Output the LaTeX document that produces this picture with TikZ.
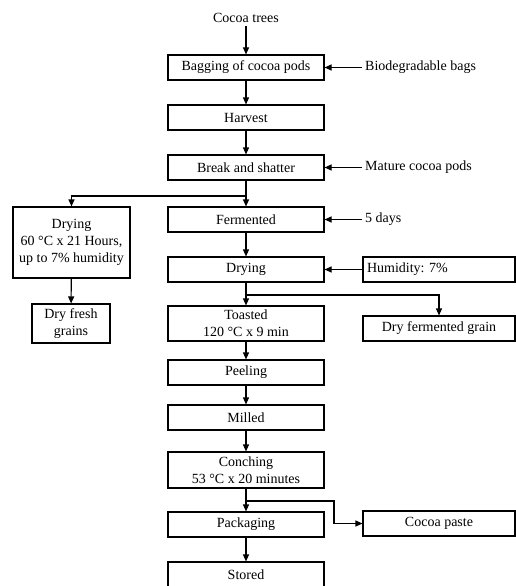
\documentclass[tikz,border=0pt]{standalone}
\usepackage{fontspec}
\setmainfont{Liberation Serif}
\usetikzlibrary{arrows.meta}
\frenchspacing
\begin{document}
\begin{tikzpicture}[x=1pt,y=-1pt,
        font=\fontsize{14}{17}\selectfont,
        box/.style={draw,line width=1.1pt,minimum width=156pt,minimum height=25pt,inner sep=1pt,align=center},
        sidebox/.style={box,minimum width=152pt},
        lbl/.style={anchor=west,inner sep=3pt},
        arr/.style={-{Triangle[length=7pt,width=6pt]},line width=1.1pt}]
    \useasboundingbox (0,0) rectangle (516,586);
    \node (trees) at (246,18) {Cocoa trees};
    \node[box] (bag) at (246,67.5) {Bagging of cocoa pods};
    \node[lbl] (bags) at (362,67.5) {Biodegradable bags};
    \node[box] (harvest) at (246,117.5) {Harvest};
    \node[box] (brk) at (246,167.5) {Break and shatter};
    \node[lbl] (pods) at (362,167.5) {Mature cocoa pods};
    \node[box] (ferm) at (246,219.5) {Fermented};
    \node[lbl] (days) at (362,219.5) {5 days};
    \node[box,minimum width=117pt,minimum height=71pt] (dryleft) at (71.5,242.5) {Drying\\60 °C x 21 Hours,\\up to 7\% humidity};
    \node[box,minimum width=78pt,minimum height=39pt] (fresh) at (71,323.5) {Dry fresh\\grains};
    \node[box] (dry) at (246,269.5) {Drying};
    \node[sidebox,inner xsep=4pt,text width=144pt,align=left] (hum) at (439,269.5) {Humidity: 7\%};
    \node[box,minimum height=35pt] (toast) at (246,323.5) {Toasted\\120 °C x 9 min};
    \node[sidebox] (dfg) at (439,328.5) {Dry fermented grain};
    \node[box] (peel) at (246,372.5) {Peeling};
    \node[box] (mill) at (246,417.5) {Milled};
    \node[box,minimum height=36pt] (conch) at (246,470) {Conching\\53 °C x 20 minutes};
    \node[box] (pack) at (246,524.5) {Packaging};
    \node[sidebox] (paste) at (439,523.5) {Cocoa paste};
    \node[box] (stored) at (246,574.5) {Stored};
    \coordinate (split1) at (246,196);
    \coordinate (split2) at (246,295);
    \coordinate (split3) at (246,501);
    \coordinate (bend3) at (334,501);
    \draw[arr] (trees) -- (bag);
    \draw[arr] (bags) -- (bag);
    \draw[arr] (bag) -- (harvest);
    \draw[arr] (harvest) -- (brk);
    \draw[arr] (pods) -- (brk);
    \draw[arr] (brk) -- (ferm);
    \draw[arr] (split1) -| (dryleft);
    \draw[arr] (days) -- (ferm);
    \draw[arr] (dryleft) -- (fresh);
    \draw[arr] (ferm) -- (dry);
    \draw[arr] (hum) -- (dry);
    \draw[arr] (dry) -- (toast);
    \draw[arr] (split2) -| (dfg);
    \draw[arr] (toast) -- (peel);
    \draw[arr] (peel) -- (mill);
    \draw[arr] (mill) -- (conch);
    \draw[arr] (conch) -- (pack);
    \draw[arr] (split3) -- (bend3) |- (paste);
    \draw[arr] (pack) -- (stored);
\end{tikzpicture}
\end{document}
